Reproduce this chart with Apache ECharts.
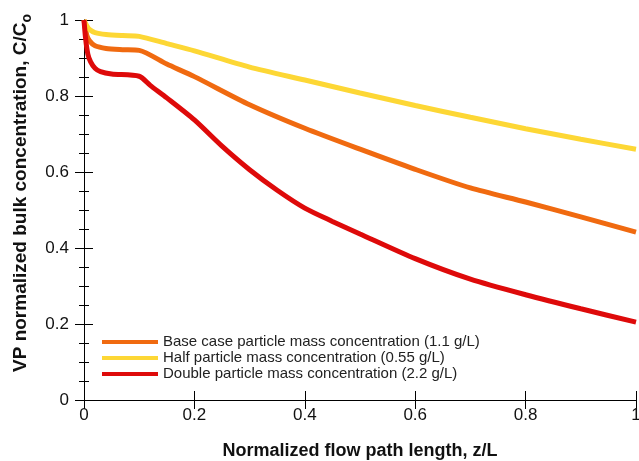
<!DOCTYPE html>
<html>
<head>
<meta charset="utf-8">
<script src="https://cdn.jsdelivr.net/npm/echarts@6/dist/echarts.min.js"></script>
<style>html,body{margin:0;padding:0;background:#fff}#c{width:639px;height:461px}</style>
</head>
<body>
<div id="c"></div>
<script>
var seriesNames = [
  'Base case particle mass concentration (1.1 g/L)',
  'Half particle mass concentration (0.55 g/L)',
  'Double particle mass concentration (2.2 g/L)'
];
var xAxisTitle = 'Normalized flow path length, z/L';
var yAxisTitleMain = 'VP normalized bulk concentration, C/C';
var yAxisTitleSub = 'o';
var baseX = [0, 0.005, 0.01, 0.02, 0.04, 0.07, 0.1, 0.15, 0.2, 0.3, 0.4, 0.5, 0.6, 0.7, 0.8, 0.9, 1.0];
var baseY = [1, 0.96, 0.945, 0.932, 0.925, 0.922, 0.92, 0.884, 0.851, 0.777, 0.715, 0.66, 0.607, 0.558, 0.521, 0.482, 0.442];
var halfX = [0, 0.005, 0.01, 0.02, 0.04, 0.07, 0.1, 0.15, 0.2, 0.3, 0.4, 0.5, 0.6, 0.7, 0.8, 0.9, 1.0];
var halfY = [1, 0.985, 0.975, 0.967, 0.962, 0.959, 0.957, 0.938, 0.919, 0.876, 0.842, 0.808, 0.775, 0.744, 0.714, 0.686, 0.66];
var doubleX = [0, 0.003, 0.007, 0.012, 0.02, 0.03, 0.05, 0.1, 0.12, 0.15, 0.2, 0.25, 0.3, 0.35, 0.4, 0.45, 0.5, 0.6, 0.7, 0.8, 0.9, 1.0];
var doubleY = [1, 0.95, 0.91, 0.89, 0.873, 0.864, 0.858, 0.852, 0.828, 0.795, 0.737, 0.668, 0.606, 0.552, 0.505, 0.47, 0.437, 0.372, 0.318, 0.277, 0.24, 0.205];
var colors = ['#F06A10', '#FDD735', '#DE0A0A'];

function pairs(xs, ys) { return xs.map(function (x, i) { return [x, ys[i]]; }); }

var chart = echarts.init(document.getElementById('c'));
var axisLineStyle = { lineStyle: { color: '#000', width: 1 } };
var font = 'Arial, "Liberation Sans", sans-serif';
function fmt(v) { return String(+v.toFixed(1)); }
chart.setOption({
  animation: false,
  color: colors,
  grid: { left: 84, right: 3, top: 20, bottom: 61, containLabel: false, outerBoundsMode: 'none' },
  legend: {
    orient: 'vertical', left: 97, top: 329,
    itemWidth: 56, itemHeight: 4, itemGap: 0, icon: 'rect',
    textStyle: { fontSize: 15, color: '#222', fontFamily: font, lineHeight: 16 },
    data: seriesNames
  },
  graphic: [{
    type: 'text', x: 21, y: 193, rotation: Math.PI / 2,
    style: {
      text: '{m|' + yAxisTitleMain + '}{s|' + yAxisTitleSub + '}',
      align: 'center', verticalAlign: 'middle',
      rich: {
        m: { fontSize: 19, fontWeight: 'bold', fill: '#111', fontFamily: font, lineHeight: 26, verticalAlign: 'middle' },
        s: { fontSize: 14, fontWeight: 'bold', fill: '#111', fontFamily: font, lineHeight: 26, verticalAlign: 'bottom', padding: [12, 0, 0, 0] }
      }
    }
  }],
  xAxis: [{
    type: 'value', min: 0, max: 1, interval: 0.2,
    name: xAxisTitle, nameLocation: 'middle', nameGap: 42,
    nameTextStyle: { fontSize: 18, fontWeight: 'bold', color: '#111', fontFamily: font },
    axisLine: axisLineStyle,
    axisTick: { inside: true, length: 9, lineStyle: { color: '#000' } },
    axisLabel: { fontSize: 17, color: '#111', margin: 7, fontFamily: font, formatter: fmt },
    splitLine: { show: false }
  }, {
    type: 'value', min: 0, max: 1, interval: 0.2, position: 'top',
    axisLine: axisLineStyle,
    axisTick: { inside: true, length: 9, lineStyle: { color: '#000' } },
    axisLabel: { show: false }, splitLine: { show: false }
  }],
  yAxis: [{
    type: 'value', min: 0, max: 1, interval: 0.2,
    axisLine: axisLineStyle,
    axisTick: { inside: true, length: 9, lineStyle: { color: '#000' } },
    minorTick: { show: true, splitNumber: 4, length: 5, lineStyle: { color: '#000' } },
    axisLabel: { fontSize: 17, color: '#111', margin: 15, fontFamily: font, formatter: fmt },
    splitLine: { show: false }
  }, {
    type: 'value', min: 0, max: 1, interval: 0.2, position: 'right',
    axisLine: axisLineStyle,
    axisTick: { inside: true, length: 9, lineStyle: { color: '#000' } },
    minorTick: { show: true, splitNumber: 4, length: 5, lineStyle: { color: '#000' } },
    axisLabel: { show: false }, splitLine: { show: false }
  }],
  series: [
    { name: seriesNames[0], type: 'line', data: pairs(baseX, baseY), showSymbol: false, clip: false,
      smooth: 0.25, lineStyle: { width: 5, color: colors[0] }, itemStyle: { color: colors[0] } },
    { name: seriesNames[1], type: 'line', data: pairs(halfX, halfY), showSymbol: false, clip: false,
      smooth: 0.25, lineStyle: { width: 5, color: colors[1] }, itemStyle: { color: colors[1] } },
    { name: seriesNames[2], type: 'line', data: pairs(doubleX, doubleY), showSymbol: false, clip: false,
      smooth: 0.25, lineStyle: { width: 5, color: colors[2] }, itemStyle: { color: colors[2] } }
  ]
});
</script>
</body>
</html>
